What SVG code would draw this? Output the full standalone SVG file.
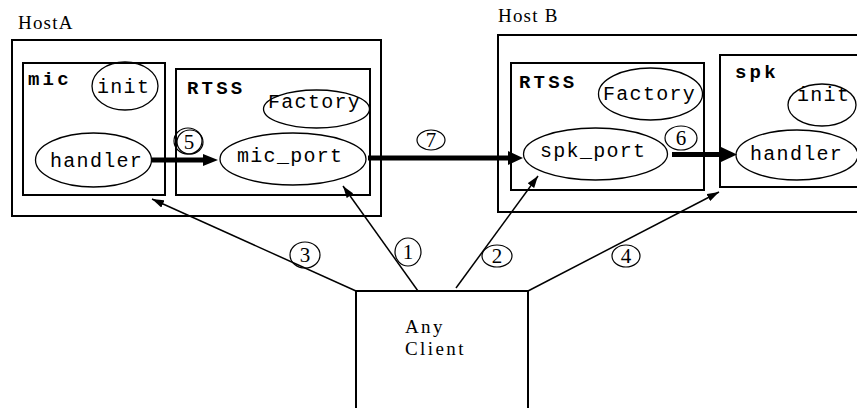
<svg xmlns="http://www.w3.org/2000/svg" width="857" height="408" viewBox="0 0 857 408">
  <style>
    .box { fill: none; stroke: #000; stroke-width: 2; }
    .ell { fill: none; stroke: #000; stroke-width: 1.3; }
    .mono { font-family: "Liberation Mono", "Courier New", monospace; font-size: 20px; letter-spacing: 1.3px; fill: #000; }
    .bold { font-family: "Liberation Mono", "Courier New", monospace; font-size: 19px; font-weight: bold; letter-spacing: 3.2px; fill: #000; }
    .host { font-family: "Liberation Serif", "Times New Roman", serif; font-size: 19px; letter-spacing: 1.2px; fill: #000; }
    .client { font-family: "Liberation Serif", "Times New Roman", serif; font-size: 19px; letter-spacing: 2.4px; fill: #000; }
    .num { font-family: "Liberation Serif", "Times New Roman", serif; font-size: 21px; text-anchor: middle; fill: #000; }
    .thick { stroke: #000; stroke-width: 5; fill: none; }
    .thin { stroke: #000; stroke-width: 1.5; fill: none; }
    .tag { fill: none; stroke: #000; stroke-width: 1.2; }
  </style>
  <defs>
    <marker id="tip" viewBox="0 0 12 8" refX="12" refY="4" markerWidth="12" markerHeight="8" markerUnits="userSpaceOnUse" orient="auto">
      <path d="M0,0 L12,4 L0,8 Z" fill="#000"/>
    </marker>
  </defs>

  <rect width="857" height="408" fill="#fff"/>

  <!-- Host A -->
  <g id="hostA">
    <text class="host" x="18" y="29">HostA</text>
    <rect class="box" x="12" y="40" width="369" height="176"/>
  </g>
  <g id="mic">
    <rect class="box" x="23" y="63" width="142" height="132"/>
    <text class="bold" x="28" y="85">mic</text>
    <ellipse class="ell" cx="125" cy="86" rx="33" ry="24"/>
    <text class="mono" x="97" y="93">init</text>
    <ellipse class="ell" cx="93.5" cy="160" rx="58" ry="27"/>
    <text class="mono" x="50" y="167">handler</text>
  </g>
  <g id="rtssA">
    <rect class="box" x="176" y="69" width="194" height="126"/>
    <text class="bold" x="187" y="94">RTSS</text>
    <ellipse class="ell" cx="316.5" cy="109" rx="53" ry="19"/>
    <text class="mono" x="268" y="108">Factory</text>
    <ellipse class="ell" cx="293" cy="159" rx="73" ry="26"/>
    <text class="mono" x="237" y="162">mic_port</text>
  </g>

  <!-- Host B -->
  <g id="hostB">
    <text class="host" x="498" y="22">Host B</text>
    <rect class="box" x="498" y="35" width="380" height="177"/>
  </g>
  <g id="rtssB">
    <rect class="box" x="511" y="63" width="193" height="127"/>
    <text class="bold" x="519" y="88">RTSS</text>
    <ellipse class="ell" cx="650.5" cy="94" rx="52" ry="26"/>
    <text class="mono" x="603" y="100">Factory</text>
    <ellipse class="ell" cx="595.5" cy="154" rx="72" ry="26"/>
    <text class="mono" x="540" y="157">spk_port</text>
  </g>
  <g id="spk">
    <rect class="box" x="720" y="55" width="160" height="132"/>
    <text class="bold" x="735" y="78">spk</text>
    <ellipse class="ell" cx="822" cy="105" rx="34" ry="21"/>
    <text class="mono" x="797" y="101">init</text>
    <ellipse class="ell" cx="797" cy="155" rx="61" ry="25"/>
    <text class="mono" x="750" y="160">handler</text>
  </g>

  <!-- Client -->
  <g id="client">
    <rect class="box" x="356" y="291" width="172" height="130"/>
    <text class="client" x="405" y="333">Any</text>
    <text class="client" x="405" y="355">Client</text>
  </g>

  <!-- Connectors -->
  <g id="connectors">
    <!-- data path -->
    <line class="thick" x1="152" y1="160" x2="204" y2="160"/>
    <path d="M203,154 L218,160 L203,166 Z" fill="#000"/>
    <line class="thick" x1="368" y1="158" x2="509" y2="158"/>
    <path d="M508,151 L523,158 L508,165 Z" fill="#000"/>
    <line class="thick" x1="672" y1="154.5" x2="723" y2="154.5"/>
    <path d="M721,147 L737,154.5 L721,162 Z" fill="#000"/>

    <!-- client requests -->
    <line class="thin" x1="356" y1="291" x2="152" y2="199" marker-end="url(#tip)"/>
    <line class="thin" x1="418" y1="291" x2="343" y2="186" marker-end="url(#tip)"/>
    <line class="thin" x1="456" y1="288" x2="538" y2="176" marker-end="url(#tip)"/>
    <line class="thin" x1="528" y1="291" x2="719" y2="192" marker-end="url(#tip)"/>

    <!-- step numbers -->
    <ellipse class="tag" cx="188" cy="141" rx="14" ry="13"/>
    <ellipse class="tag" cx="190" cy="142" rx="13" ry="12"/>
    <text class="num" x="189" y="149">5</text>
    <ellipse class="tag" cx="431" cy="140" rx="14" ry="10"/>
    <text class="num" x="431" y="147">7</text>
    <ellipse class="tag" cx="681" cy="138" rx="16" ry="12"/>
    <text class="num" x="681" y="145">6</text>
    <ellipse class="tag" cx="305" cy="255" rx="15" ry="13"/>
    <text class="num" x="305" y="262">3</text>
    <ellipse class="tag" cx="408" cy="252" rx="13" ry="14"/>
    <text class="num" x="408" y="259">1</text>
    <ellipse class="tag" cx="497" cy="256" rx="15" ry="11"/>
    <text class="num" x="497" y="263">2</text>
    <ellipse class="tag" cx="626" cy="256" rx="14" ry="11"/>
    <text class="num" x="626" y="263">4</text>
  </g>
</svg>
